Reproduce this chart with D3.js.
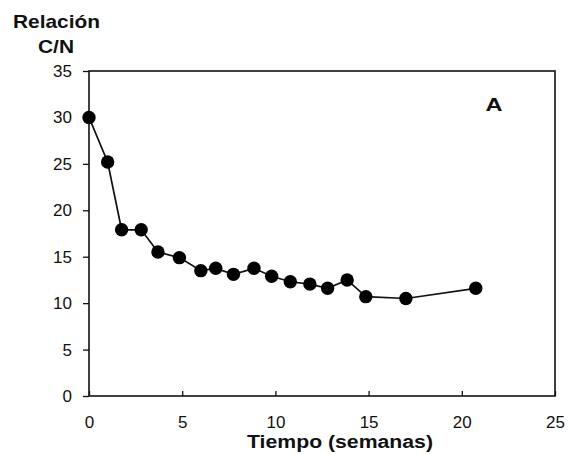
<!DOCTYPE html>
<html>
<head>
<meta charset="utf-8">
<script src="https://cdn.jsdelivr.net/npm/d3@7"></script>
<style>
  body { margin: 0; background: #fff; }
  svg text { font-family: "Liberation Sans", Arial, sans-serif; fill: #111; }
</style>
</head>
<body>
<div id="chart"></div>
<script>
// data
const semanas = [0, 1, 1.75, 2.8, 3.7, 4.85, 6, 6.8, 7.75, 8.85, 9.8, 10.8, 11.85, 12.8, 13.85, 14.85, 17, 20.75];
const relacionCN = [30, 25.2, 17.9, 17.9, 15.5, 14.9, 13.5, 13.75, 13.1, 13.75, 12.9, 12.3, 12.05, 11.6, 12.5, 10.7, 10.5, 11.6];
const xTicks = [0, 5, 10, 15, 20, 25];
const yTicks = [0, 5, 10, 15, 20, 25, 30, 35];

const data = semanas.map((s, i) => ({ x: s, y: relacionCN[i] }));

const width = 569, height = 454;
const margin = { top: 71, right: 14, bottom: 58, left: 89 };

const svg = d3.select("#chart").append("svg")
  .attr("width", width)
  .attr("height", height);

const x = d3.scaleLinear().domain([0, 25]).range([margin.left, width - margin.right]);
const y = d3.scaleLinear().domain([0, 35]).range([height - margin.bottom, margin.top]);

// axes
const yAxis = svg.append("g")
  .attr("transform", `translate(${margin.left},0)`)
  .call(d3.axisLeft(y).tickValues(yTicks).tickSize(6).tickPadding(11));

const xAxis = svg.append("g")
  .attr("transform", `translate(0,${height - margin.bottom})`)
  .call(d3.axisBottom(x).tickValues(xTicks).tickSizeInner(-5).tickSizeOuter(0).tickPadding(20));

[yAxis, xAxis].forEach(g => {
  g.select(".domain").remove();
  g.selectAll("line").attr("stroke", "#111").attr("stroke-width", 1.3);
  g.selectAll("text").style("font-size", "17px").attr("fill", "#111");
});

// frame
svg.append("rect")
  .attr("x", margin.left)
  .attr("y", margin.top)
  .attr("width", width - margin.left - margin.right)
  .attr("height", height - margin.top - margin.bottom)
  .attr("fill", "none")
  .attr("stroke", "#111")
  .attr("stroke-width", 1.6);

// line + markers
const line = d3.line().x(d => x(d.x)).y(d => y(d.y));

svg.append("path")
  .datum(data)
  .attr("d", line)
  .attr("fill", "none")
  .attr("stroke", "#111")
  .attr("stroke-width", 1.7);

svg.selectAll("circle.pt")
  .data(data)
  .enter()
  .append("circle")
  .attr("class", "pt")
  .attr("cx", d => x(d.x))
  .attr("cy", d => y(d.y))
  .attr("r", 6.7)
  .attr("fill", "#000");

// labels
svg.append("text")
  .attr("x", 56.5).attr("y", 28)
  .attr("text-anchor", "middle")
  .attr("textLength", 87).attr("lengthAdjust", "spacingAndGlyphs")
  .style("font-size", "18.5px").style("font-weight", "bold")
  .text("Relación");

svg.append("text")
  .attr("x", 56).attr("y", 53)
  .attr("text-anchor", "middle")
  .attr("textLength", 36).attr("lengthAdjust", "spacingAndGlyphs")
  .style("font-size", "18.5px").style("font-weight", "bold")
  .text("C/N");

svg.append("text")
  .attr("x", 340).attr("y", 447.5)
  .attr("text-anchor", "middle")
  .attr("textLength", 186).attr("lengthAdjust", "spacingAndGlyphs")
  .style("font-size", "17.5px").style("font-weight", "bold")
  .text("Tiempo (semanas)");

svg.append("text")
  .attr("x", 494).attr("y", 111)
  .attr("text-anchor", "middle")
  .attr("textLength", 17).attr("lengthAdjust", "spacingAndGlyphs")
  .style("font-size", "18px").style("font-weight", "bold")
  .text("A");
</script>
</body>
</html>
